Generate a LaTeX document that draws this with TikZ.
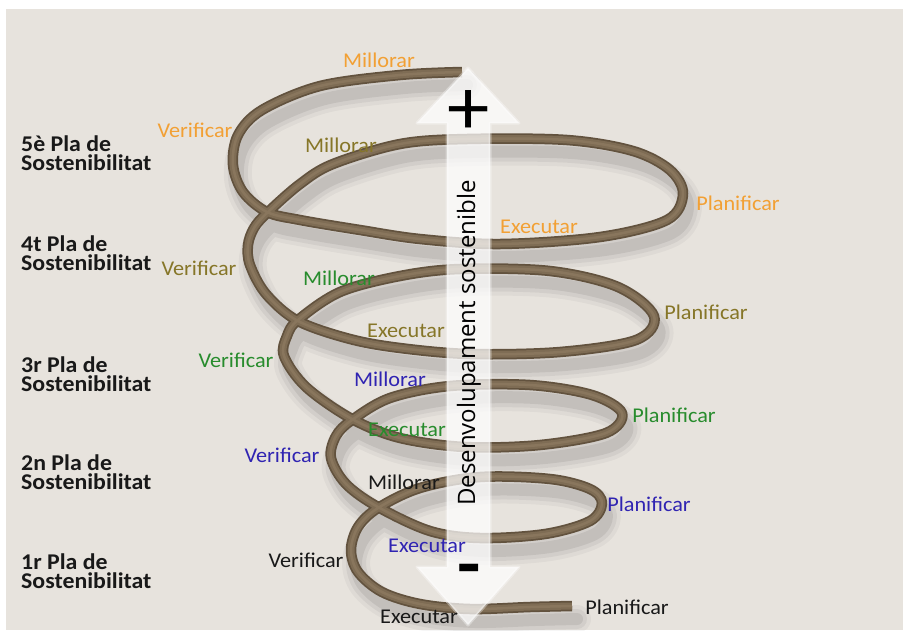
\documentclass[tikz,border=0pt]{standalone}
\usepackage{fontspec}
\setmainfont{Carlito}[FakeStretch=1.06]
\newfontfamily\vfont{Open Sans}
\definecolor{bgc}{RGB}{231,227,221}
\definecolor{tubedark}{RGB}{98,82,62}
\definecolor{tubemid}{RGB}{126,108,84}
\definecolor{tubelight}{RGB}{145,126,100}
\definecolor{corange}{RGB}{242,160,52}
\definecolor{colive}{RGB}{134,118,40}
\definecolor{cgreen}{RGB}{40,140,45}
\definecolor{cblue}{RGB}{48,36,178}
\definecolor{cblack}{RGB}{25,25,25}
\newcommand\helixpath{plot[smooth,tension=0.55] coordinates {(572,606) (530,607) (470,609) (420,604) (382,592) (358,572) (351,550) (358,527) (378,508) (420,488) (480,477) (550,479) (590,489) (602,503) (590,521) (545,534) (480,538) (430,531) (378,507) (346,484) (331,458) (336,436) (352,420) (390,398) (450,386) (530,385) (592,395) (622,413) (606,433) (540,445) (465,447) (400,438) (352,419) (306,387) (284,356) (287,336) (298,320) (340,292) (400,276) (460,269) (550,271) (618,287) (654,316) (636,340) (560,352) (470,354) (400,348) (350,339) (298,321) (266,294) (250,265) (248,245) (254,228) (267,213) (300,184) (333,164) (400,144) (467,139) (567,140) (633,151) (670,170) (683,194) (667,220) (600,237) (500,244) (420,239) (360,230) (300,220) (267,212) (243,192) (233,165) (238,135) (262,110) (320,86) (400,75) (462,72)}}
\begin{document}
\begin{tikzpicture}[x=1pt,y=-1pt,
  lbl/.style={inner sep=0pt, font=\fontsize{21}{21}\selectfont},
  plan/.style={inner sep=0pt, anchor=north west, align=left, font=\bfseries\fontsize{22.5}{18.5}\selectfont, text=cblack},
  shadowline/.style={draw=black, line cap=round, line join=round}]
\useasboundingbox (0,0) rectangle (903,630);
\fill[white] (0,0) rectangle (903,630);
\fill[bgc] (6,9) rectangle (903,630);
% shadow of the spiral
\begin{scope}[shift={(5,13)}]
  \draw[shadowline, line width=28pt, opacity=0.035] \helixpath;
  \draw[shadowline, line width=20pt, opacity=0.05] \helixpath;
  \draw[shadowline, line width=12pt, opacity=0.07] \helixpath;
\end{scope}
% spiral tube
\draw[tubedark, line width=10.5pt, line join=round] \helixpath;
\draw[tubemid, line width=7pt, line join=round] \helixpath;
\draw[tubelight, line width=2.5pt, line join=round, opacity=0.6] \helixpath;
% double arrow
\path[fill=white, fill opacity=0.72, draw=white, draw opacity=0.35, line width=3pt, line join=round]
  (447,123) -- (417,123) -- (468,68) -- (519,123) -- (490,123) -- (490,567)
  -- (519,567) -- (468,625) -- (417,567) -- (447,567) -- cycle;
\node[rotate=90, inner sep=0pt, font=\vfont\fontsize{24}{24}\selectfont] (dev) at (469,343) {Desenvolupament sostenible};
\node[inner sep=0pt, font=\fontsize{80}{80}\selectfont] (plus) at (469,113) {+};
\node[inner sep=0pt, font=\fontsize{72}{72}\selectfont\bfseries] (minus) at (469,576) {-};
% plan labels
\node[plan] (p5) at (21,136) {5è Pla de\\Sostenibilitat};
\node[plan] (p4) at (21,236) {4t Pla de\\Sostenibilitat};
\node[plan] (p3) at (21,357) {3r Pla de\\Sostenibilitat};
\node[plan] (p2) at (21,455) {2n Pla de\\Sostenibilitat};
\node[plan] (p1) at (21,554) {1r Pla de\\Sostenibilitat};
% orange cycle
\node[lbl, text=corange] (m5) at (379,60) {Millorar};
\node[lbl, text=corange] (v5) at (195,130) {Verificar};
\node[lbl, text=corange] (pl5) at (738,203) {Planificar};
\node[lbl, text=corange] (e5) at (539,227) {Executar};
% olive cycle
\node[lbl, text=colive] (m4) at (341,145) {Millorar};
\node[lbl, text=colive] (v4) at (199,268) {Verificar};
\node[lbl, text=colive] (pl4) at (706,312) {Planificar};
\node[lbl, text=colive] (e4) at (406,331) {Executar};
% green cycle
\node[lbl, text=cgreen] (m3) at (339,278) {Millorar};
\node[lbl, text=cgreen] (v3) at (236,360) {Verificar};
\node[lbl, text=cgreen] (pl3) at (674,415) {Planificar};
\node[lbl, text=cgreen] (e3) at (407,430) {Executar};
% blue cycle
\node[lbl, text=cblue] (m2) at (390,379) {Millorar};
\node[lbl, text=cblue] (v2) at (282,455) {Verificar};
\node[lbl, text=cblue] (pl2) at (649,504) {Planificar};
\node[lbl, text=cblue] (e2) at (427,546) {Executar};
% black cycle
\node[lbl, text=cblack] (m1) at (404,482) {Millorar};
\node[lbl, text=cblack] (v1) at (306,560) {Verificar};
\node[lbl, text=cblack] (pl1) at (627,607) {Planificar};
\node[lbl, text=cblack] (e1) at (419,617) {Executar};
\end{tikzpicture}
\end{document}
